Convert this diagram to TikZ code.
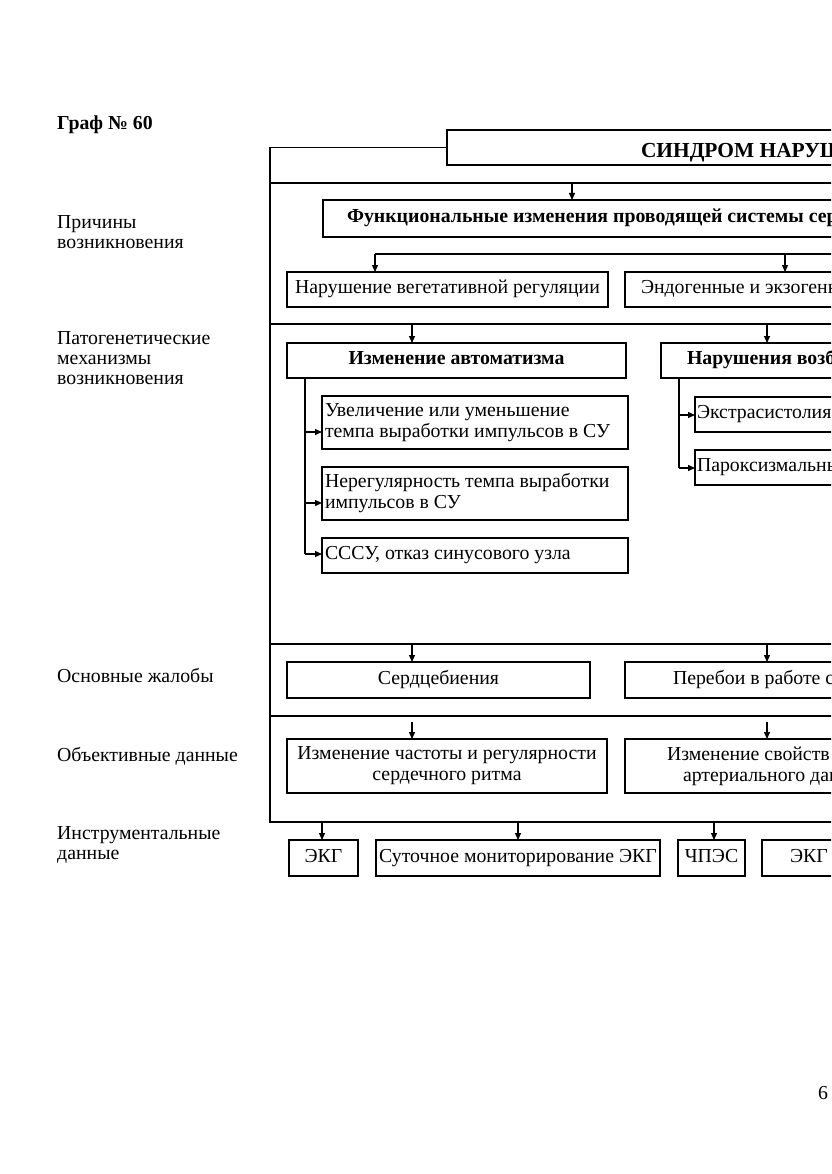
\documentclass[tikz,border=0pt]{standalone}
\usepackage{fontspec}
\setmainfont{Liberation Serif}
\usetikzlibrary{arrows.meta}
\begin{document}
\begin{tikzpicture}[x=1pt,y=-1pt,
  every node/.style={font=\fontsize{19.8}{21}\selectfont},
  box/.style={draw, line width=1.4pt, anchor=north west, inner ysep=0pt, inner xsep=0pt, outer sep=0pt, align=center},
  sbox/.style={box, text height=13pt, text depth=5pt},
  lbox/.style={box, align=flush left},
  slbox/.style={lbox, text height=13pt, text depth=5pt},
  bold/.style={font=\fontsize{19.8}{21}\selectfont\bfseries},
  arr/.style={line width=1.3pt, -{Triangle[length=7pt,width=6pt]}},
  ln/.style={line width=1.4pt},
  lbl/.style={anchor=north west, inner sep=0pt, align=flush left, font=\fontsize{19.8}{20.3}\selectfont},
]
\useasboundingbox (0,0) rectangle (831,1174);
\fill[white] (0,0) rectangle (831,1174);
\clip (0,0) rectangle (831,1174);

% heading and row labels
\node[lbl, font=\fontsize{19.8}{21}\selectfont\bfseries] (graf) at (57,116) {Граф № 60};
\node[lbl] (l1) at (57,215) {Причины\\возникновения};
\node[lbl] (l2) at (57,331) {Патогенетические\\механизмы\\возникновения};
\node[lbl] (l3) at (57,668) {Основные жалобы};
\node[lbl] (l4) at (57,747) {Объективные данные};
\node[lbl] (l5) at (57,826) {Инструментальные\\данные};

% title box and frame
\node[lbox, font=\fontsize{21.4}{23}\selectfont\bfseries, minimum height=35pt, text height=20pt, text depth=0pt, text width=500pt, inner xsep=194pt] (title) at (447,130) {СИНДРОМ НАРУШЕНИЯ};
\draw[ln] (title.west) -| (270,822) -- (900,822);
\draw[ln] (270,183) -- (900,183);
\draw[ln] (270,324) -- (900,324);
\draw[ln] (270,644) -- (900,644);
\draw[ln] (270,716) -- (900,716);

% causes
\node[slbox, bold, minimum height=37pt, text width=700pt, inner xsep=24pt] (fun) at (323,200) {Функциональные изменения проводящей системы сердца};
\coordinate (d1) at (572,183);
\draw[arr] (d1) -- (d1 |- fun.north);
\node[sbox, minimum width=321pt, minimum height=35pt] (veg) at (287,272) {Нарушение вегетативной регуляции};
\node[slbox, minimum height=35pt, text width=400pt, inner xsep=16pt] (endo) at (625,272) {Эндогенные и экзогенные};
\coordinate (b1) at (375,254);
\coordinate (b2) at (785,254);
\draw[ln] (b1) -- (900,254);
\draw[arr] (b1) -- (b1 |- veg.north);
\draw[arr] (b2) -- (b2 |- endo.north);

% pathogenesis
\node[sbox, bold, minimum width=339pt, minimum height=35pt] (auto) at (287,343) {Изменение автоматизма};
\node[slbox, bold, minimum height=35pt, text width=400pt, inner xsep=26pt] (vozb) at (661,343) {Нарушения возбудимости};
\coordinate (p1) at (412,324);
\coordinate (p2) at (767,324);
\draw[arr] (p1) -- (p1 |- auto.north);
\draw[arr] (p2) -- (p2 |- vozb.north);

\node[lbox, minimum height=53pt, text width=300pt, inner xsep=3pt] (inc) at (322,396) {Увеличение или уменьшение\\темпа выработки импульсов в СУ};
\node[lbox, minimum height=53pt, text width=300pt, inner xsep=3pt] (irr) at (322,467) {Нерегулярность темпа выработки\\импульсов в СУ};
\node[slbox, minimum height=35pt, text width=300pt, inner xsep=3pt] (sssu) at (322,538) {СССУ, отказ синусового узла};
\coordinate (la) at (305,378);
\coordinate (la1) at (305,432);
\coordinate (la2) at (305,503);
\coordinate (la3) at (305,554);
\draw[ln] (auto.south -| la) -- (la3);
\draw[arr] (la1) -- (la1 -| inc.west);
\draw[arr] (la2) -- (la2 -| irr.west);
\draw[arr] (la3) -- (la3 -| sssu.west);

\node[slbox, minimum height=35pt, text width=400pt, inner xsep=2pt] (extra) at (695,397) {Экстрасистолия};
\node[slbox, minimum height=35pt, text width=400pt, inner xsep=2pt] (parox) at (695,450) {Пароксизмальные};
\coordinate (ra) at (679,378);
\coordinate (ra1) at (679,415);
\coordinate (ra2) at (679,468);
\draw[ln] (vozb.south -| ra) -- (ra2);
\draw[arr] (ra1) -- (ra1 -| extra.west);
\draw[arr] (ra2) -- (ra2 -| parox.west);

% complaints
\node[sbox, minimum width=303pt, minimum height=36pt] (serd) at (287,662) {Сердцебиения};
\node[slbox, minimum height=36pt, text width=400pt, inner xsep=48pt] (pereb) at (625,662) {Перебои в работе сердца};
\coordinate (c1) at (412,644);
\coordinate (c2) at (767,644);
\draw[arr] (c1) -- (c1 |- serd.north);
\draw[arr] (c2) -- (c2 |- pereb.north);

% objective data
\node[box, minimum width=320pt, minimum height=54pt] (chast) at (287,739) {Изменение частоты и регулярности\\сердечного ритма};
\node[lbox, minimum height=54pt, text width=400pt, inner xsep=42pt] (svoj) at (625,739) {Изменение свойств\\\hspace*{16pt}артериального давления};
\coordinate (o1) at (412,722);
\coordinate (o2) at (767,722);
\draw[arr] (o1) -- (o1 |- chast.north);
\draw[arr] (o2) -- (o2 |- svoj.north);

% instrumental data
\node[sbox, minimum width=69pt, minimum height=36pt] (ekg1) at (289,840) {ЭКГ};
\node[sbox, minimum width=284pt, minimum height=36pt] (sut) at (376,840) {Суточное мониторирование ЭКГ};
\node[sbox, minimum width=67pt, minimum height=36pt] (chpes) at (678,840) {ЧПЭС};
\node[slbox, minimum height=36pt, text width=200pt, inner xsep=28pt] (ekg2) at (762,840) {ЭКГ};
\coordinate (i1) at (322,822);
\coordinate (i2) at (518,822);
\coordinate (i3) at (714,822);
\draw[arr] (i1) -- (i1 |- ekg1.north);
\draw[arr] (i2) -- (i2 |- sut.north);
\draw[arr] (i3) -- (i3 |- chpes.north);

\node (pg) at (823,1093) {6};
\end{tikzpicture}
\end{document}
